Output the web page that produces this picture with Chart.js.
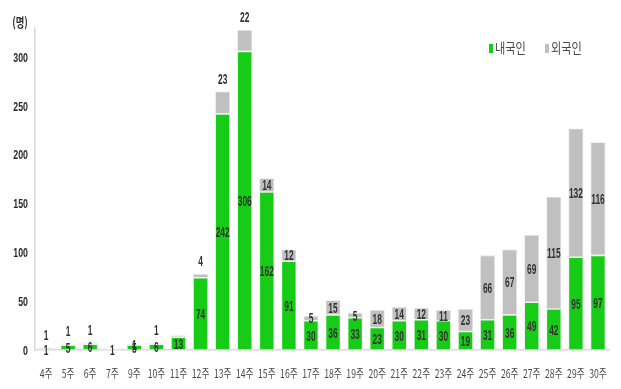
<!DOCTYPE html>
<html><head><meta charset="utf-8">
<script src="https://cdn.jsdelivr.net/npm/chart.js@4"></script>
<style>html,body{margin:0;padding:0;background:#fff}#w{width:621px;height:389px}</style>
</head><body><div id="w"><canvas id="c" width="621" height="389"></canvas></div>
<script>
const categories = ['4주','5주','6주','7주','9주','10주','11주','12주','13주','14주','15주','16주','17주','18주','19주','20주','21주','22주','23주','24주','25주','26주','27주','28주','29주','30주'];
const domestic = [1,5,6,1,5,6,13,74,242,306,162,91,30,36,33,23,30,31,30,19,31,36,49,42,95,97];
const foreign  = [1,1,1,0,1,1,2,4,23,22,14,12,5,15,5,18,14,12,11,23,66,67,69,115,132,116];
const yTicks = [0,50,100,150,200,250,300];
const seriesNames = ['내국인','외국인'];
const unitLabel = '(명)';
const foreignLabelAbove = ['4주','5주','6주','10주','12주','13주','14주'];
const hiddenForeignLabels = ['11주'];

const FONT = '"Liberation Sans","Noto Sans CJK KR",sans-serif';
const KFONT = '"Noto Sans CJK KR","Liberation Sans",sans-serif';
const GREEN = '#17cc17', GRAY = '#c0c0c0';

function narrowText(ctx, text, x, y, sx, align) {
  ctx.save();
  ctx.translate(x, y);
  ctx.scale(sx, 1);
  ctx.textAlign = align || 'center';
  ctx.fillText(text, 0, 0);
  ctx.restore();
}

const labelPlugin = {
  id: 'labels',
  afterDraw(chart) {
    const ctx = chart.ctx;
    const xs = chart.scales.x, ys = chart.scales.y;
    ctx.save();
    ctx.textBaseline = 'middle';
    // data labels
    ctx.font = 'bold 15px ' + FONT;
    ctx.fillStyle = '#333333';
    chart.data.datasets.forEach((ds, di) => {
      const meta = chart.getDatasetMeta(di);
      meta.data.forEach((bar, i) => {
        const v = ds.data[i];
        if (!v) return;
        const cat = categories[i];
        if (di === 1 && hiddenForeignLabels.includes(cat)) return;
        let y = (bar.y + bar.base) / 2;
        if (di === 1 && foreignLabelAbove.includes(cat)) y = bar.y - 13;
        narrowText(ctx, String(v), bar.x, y + 1, 0.56);
      });
    });
    // x tick labels
    ctx.font = '12px ' + KFONT;
    ctx.fillStyle = '#4a4a4a';
    categories.forEach((c, i) => {
      narrowText(ctx, c, xs.getPixelForTick(i), 373, 0.72);
    });
    // y tick labels
    ctx.font = 'bold 13px ' + FONT;
    ctx.fillStyle = '#2a2a2a';
    yTicks.forEach(v => {
      narrowText(ctx, String(v), 28, ys.getPixelForValue(v) + 1, 0.68, 'right');
    });
    // unit label
    ctx.font = 'bold 13px ' + KFONT;
    ctx.fillStyle = '#333';
    narrowText(ctx, unitLabel, 20, 22, 0.72);
    // legend
    const items = [[489, GREEN, seriesNames[0]], [545, GRAY, seriesNames[1]]];
    ctx.font = '14px ' + KFONT;
    items.forEach(([x, col, t]) => {
      ctx.fillStyle = col;
      ctx.fillRect(x, 44, 4, 9);
      ctx.fillStyle = '#4a4a4a';
      narrowText(ctx, t, x + 6, 48, 0.8, 'left');
    });
    ctx.restore();
  }
};

new Chart(document.getElementById('c'), {
  type: 'bar',
  data: {
    labels: categories,
    datasets: [
      { label: seriesNames[0], data: domestic, backgroundColor: GREEN, borderColor: '#e6e6e6', borderWidth: 0.8, borderSkipped: false },
      { label: seriesNames[1], data: foreign, backgroundColor: GRAY, borderColor: '#e6e6e6', borderWidth: 0.8, borderSkipped: false }
    ]
  },
  options: {
    responsive: false,
    animation: false,
    layout: { padding: { top: 28, right: 12, left: 0, bottom: 0 } },
    plugins: { legend: { display: false }, tooltip: { enabled: false } },
    datasets: { bar: { categoryPercentage: 1, barPercentage: 0.68 } },
    scales: {
      x: {
        stacked: true,
        grid: { display: false, drawTicks: false },
        border: { color: '#d9d9d9', width: 1.5 },
        ticks: { display: false },
        afterFit(s) { s.height = 39; }
      },
      y: {
        stacked: true,
        min: 0, max: 330,
        afterBuildTicks(s) { s.ticks = yTicks.map(v => ({ value: v })); },
        grid: { display: false, drawTicks: false },
        border: { color: '#d9d9d9', width: 1.5 },
        ticks: { display: false },
        afterFit(s) { s.width = 35; }
      }
    }
  },
  plugins: [labelPlugin]
});
</script></body></html>
